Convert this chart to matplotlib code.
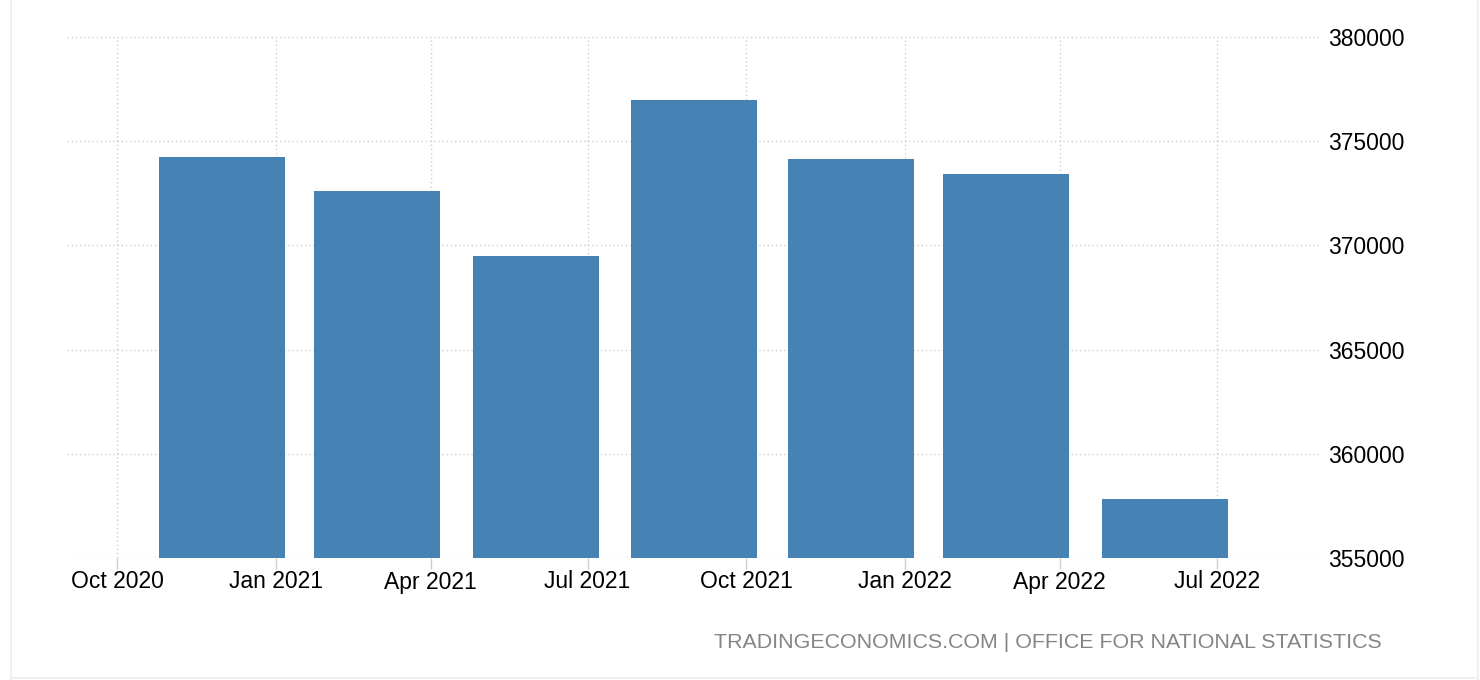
import datetime as dt
import matplotlib
matplotlib.use('Agg')
import matplotlib.pyplot as plt
import matplotlib.dates as mdates
from matplotlib.lines import Line2D

# quarterly values, bars placed on the last month of each quarter
dates = [dt.date(2020, 12, 1), dt.date(2021, 3, 1), dt.date(2021, 6, 1),
         dt.date(2021, 9, 1), dt.date(2021, 12, 1), dt.date(2022, 3, 1),
         dt.date(2022, 6, 1)]
values = [374240, 372610, 369490, 376980, 374150, 373430, 357830]

tick_dates = [dt.date(2020, 10, 1), dt.date(2021, 1, 1), dt.date(2021, 4, 1),
              dt.date(2021, 7, 1), dt.date(2021, 10, 1), dt.date(2022, 1, 1),
              dt.date(2022, 4, 1), dt.date(2022, 7, 1)]
y_ticks = [355000, 360000, 365000, 370000, 375000, 380000]

plt.rcParams['font.family'] = ['Liberation Sans', 'DejaVu Sans']

fig = plt.figure(figsize=(14.8, 6.8), dpi=100)
ax = fig.add_axes((67/1480, 1 - 558/680, (1320 - 67)/1480, (558 - 37)/680))

ax.bar(dates, values, width=73, color='#4682b4', zorder=2)

ax.set_xlim(dt.date(2020, 9, 2), dt.date(2022, 8, 30))
ax.set_ylim(355000, 380000)
ax.set_xticks(tick_dates)
ax.xaxis.set_major_formatter(mdates.DateFormatter('%b %Y'))
ax.set_yticks(y_ticks)

ax.yaxis.tick_right()
ax.tick_params(axis='y', length=0, pad=6, labelsize=16.5, labelcolor='#000000')
ax.tick_params(axis='x', length=8, width=1, color='#cccccc', pad=1,
               labelsize=16.5, labelcolor='#000000')

ax.grid(True, color='#cccccc', linestyle=(0, (1, 2)), linewidth=1, zorder=0)
ax.set_axisbelow(True)
for s in ax.spines.values():
    s.set_visible(False)

fig.text(1382/1480, 1 - 642/680, 'TRADINGECONOMICS.COM | OFFICE FOR NATIONAL STATISTICS',
         ha='right', va='center', fontsize=15.4, color='#858585')

# faint frame around the chart area
frame = '#f0f0f0'
fig.add_artist(Line2D([11/1480, 11/1480], [0, 1], color=frame, lw=1.5, transform=fig.transFigure))
fig.add_artist(Line2D([1478/1480, 1478/1480], [0, 1], color=frame, lw=1.5, transform=fig.transFigure))
fig.add_artist(Line2D([11/1480, 1478/1480], [2/680, 2/680], color=frame, lw=1.5, transform=fig.transFigure))

fig.savefig('out.png', dpi=100)
plt.close()
